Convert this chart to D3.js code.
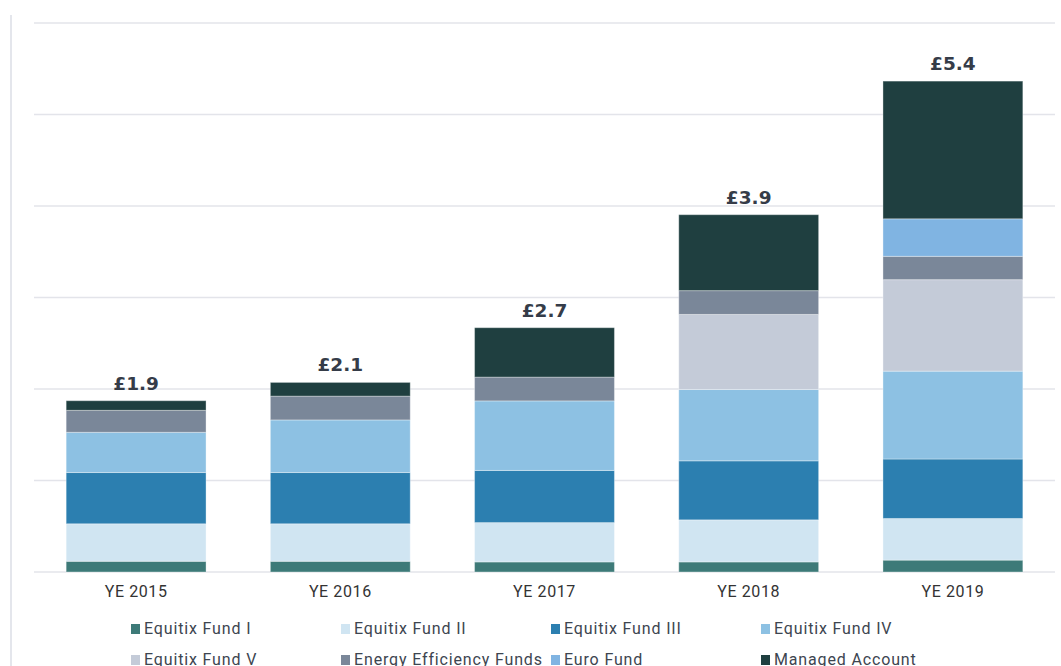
<!DOCTYPE html>
<html>
<head>
<meta charset="utf-8">
<script src="https://cdn.jsdelivr.net/npm/d3@7"></script>
<style>
  html, body { margin: 0; padding: 0; background: #fff; }
  svg { display: block; }
</style>
</head>
<body>
<svg id="chart" width="1061" height="666"></svg>
<script>
// values in £bn
const years = ['YE 2015', 'YE 2016', 'YE 2017', 'YE 2018', 'YE 2019'];
const totalLabels = ['£1.9', '£2.1', '£2.7', '£3.9', '£5.4'];

const fundNames = [
  'Equitix Fund I', 'Equitix Fund II', 'Equitix Fund III', 'Equitix Fund IV',
  'Equitix Fund V', 'Energy Efficiency Funds', 'Euro Fund', 'Managed Account'
];
const fundColors = [
  '#3d7a78', '#d0e5f2', '#2c7fb0', '#8dc1e3',
  '#c4cbd8', '#7a8799', '#80b4e2', '#1f3f40'
];

const fund1 = [0.117, 0.117, 0.11, 0.11, 0.13];
const fund2 = [0.41, 0.41, 0.43, 0.46, 0.455];
const fund3 = [0.56, 0.56, 0.57, 0.645, 0.65];
const fund4 = [0.44, 0.575, 0.76, 0.78, 0.96];
const fund5 = [0, 0, 0, 0.82, 1.0];
const energy = [0.24, 0.26, 0.26, 0.26, 0.255];
const euro = [0, 0, 0, 0, 0.41];
const managed = [0.105, 0.15, 0.54, 0.83, 1.505];

const yTicks = [0, 1, 2, 3, 4, 5, 6];

const seriesValues = [fund1, fund2, fund3, fund4, fund5, energy, euro, managed];

// table for d3.stack
const rows = years.map((yr, i) => {
  const r = { year: yr };
  fundNames.forEach((f, k) => { r[f] = seriesValues[k][i]; });
  return r;
});

const svg = d3.select('#chart');

const x = d3.scaleBand()
  .domain(years)
  .range([34, 1055])
  .paddingInner(0.315)
  .paddingOuter(0.1575);

const y = d3.scaleLinear()
  .domain([0, 6])
  .range([572, 23]);

const color = d3.scaleOrdinal().domain(fundNames).range(fundColors);

// left frame line
svg.append('line')
  .attr('x1', 11).attr('x2', 11)
  .attr('y1', 15).attr('y2', 666)
  .attr('stroke', '#e4e6ec')
  .attr('stroke-width', 2);

// gridlines
svg.append('g')
  .selectAll('line')
  .data(yTicks)
  .join('line')
  .attr('x1', 34).attr('x2', 1055)
  .attr('y1', d => y(d)).attr('y2', d => y(d))
  .attr('stroke', '#e3e4ea')
  .attr('stroke-width', 1.5);

const stacked = d3.stack().keys(fundNames)(rows);

svg.append('g')
  .selectAll('g')
  .data(stacked)
  .join('g')
  .attr('fill', d => color(d.key))
  .selectAll('rect')
  .data(d => d.filter(s => s[1] - s[0] > 0))
  .join('rect')
  .attr('x', d => x(d.data.year))
  .attr('y', d => y(d[1]))
  .attr('width', x.bandwidth())
  .attr('height', d => y(d[0]) - y(d[1]))
  .attr('stroke', 'rgba(255,255,255,0.35)')
  .attr('stroke-width', 1);

// total labels
const topLayer = stacked[stacked.length - 1];
svg.append('g')
  .selectAll('text')
  .data(years)
  .join('text')
  .attr('x', d => x(d) + x.bandwidth() / 2)
  .attr('y', (d, i) => y(topLayer[i][1]) - 11)
  .attr('text-anchor', 'middle')
  .attr('font-family', 'DejaVu Sans, sans-serif')
  .attr('font-weight', 'bold')
  .attr('font-size', 18.5)
  .attr('fill', '#353c48')
  .text((d, i) => totalLabels[i]);

// x axis labels
const xAxis = d3.axisBottom(x).tickSize(0).tickPadding(0);
const gx = svg.append('g')
  .attr('transform', 'translate(0,597)')
  .call(xAxis);
gx.select('.domain').remove();
gx.selectAll('text')
  .attr('dy', 0)
  .attr('font-family', 'Roboto, sans-serif')
  .attr('font-size', 16)
  .attr('letter-spacing', 0.6)
  .attr('fill', '#333');

// legend, 4 columns x 2 rows
const legend = svg.append('g')
  .selectAll('g')
  .data(fundNames)
  .join('g')
  .attr('transform', (d, i) => `translate(${131 + (i % 4) * 210},${634 + Math.floor(i / 4) * 31})`);

legend.append('rect')
  .attr('x', 0).attr('y', -10)
  .attr('width', 9).attr('height', 10)
  .attr('fill', d => color(d));

legend.append('text')
  .attr('x', 13)
  .attr('y', 0)
  .attr('font-family', 'Roboto, sans-serif')
  .attr('font-size', 16)
  .attr('letter-spacing', 0.85)
  .attr('fill', '#3d4550')
  .text(d => d);
</script>
</body>
</html>
